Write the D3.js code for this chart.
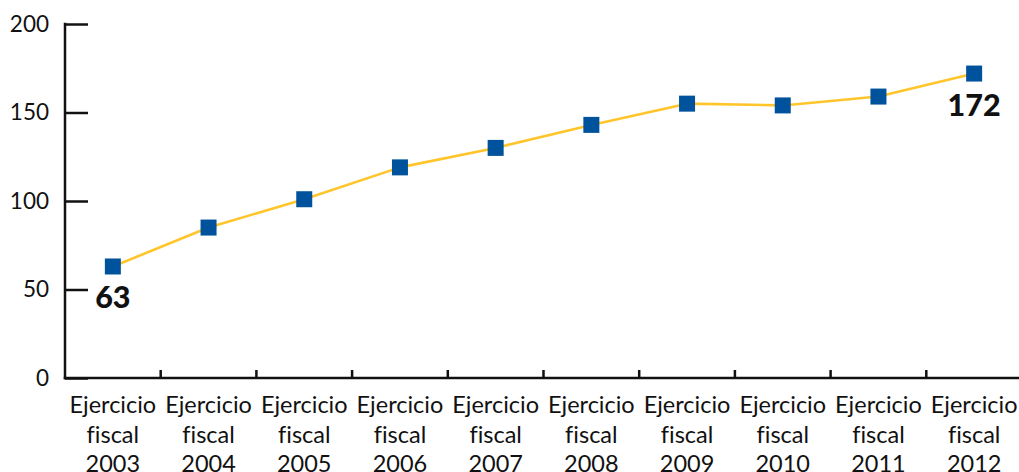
<!DOCTYPE html>
<html>
<head>
<meta charset="utf-8">
<script src="https://cdn.jsdelivr.net/npm/d3@7"></script>
<style>
  html, body { margin: 0; padding: 0; background: #fff; }
  svg { display: block; font-family: Lato, "Open Sans", sans-serif; font-variant-ligatures: none; font-feature-settings: "liga" 0; }
</style>
</head>
<body>
<svg id="chart" width="1019" height="472"></svg>
<script>
// Fiscal years shown along the bottom axis
const years = ["2003", "2004", "2005", "2006", "2007", "2008", "2009", "2010", "2011", "2012"];
const categoryPrefix = ["Ejercicio", "fiscal"];
// Value for each fiscal year
const values = [63, 85, 101, 119, 130, 143, 155, 154, 159, 172];
// Y axis ticks
const yTicks = [0, 50, 100, 150, 200];
// Years whose value is written under the marker
const labelledYears = ["2003", "2012"];

const svg = d3.select("#chart");
const margin = { left: 65, right: -3, top: 24, bottom: 94 };
const width = 1019, height = 472;

const x = d3.scaleBand()
  .domain(years)
  .range([margin.left, width - margin.right])
  .paddingInner(0).paddingOuter(0);

const y = d3.scaleLinear()
  .domain([0, 200])
  .range([height - margin.bottom, margin.top]);

const ink = "#111";

// Y axis: vertical line with inward ticks
const yAxis = svg.append("g")
  .attr("transform", `translate(${margin.left},0)`)
  .call(d3.axisRight(y).tickValues(yTicks).tickSize(23).tickFormat(""));
yAxis.select(".domain").remove();
yAxis.selectAll(".tick line").attr("stroke", ink).attr("stroke-width", 2.5);
svg.append("line")
  .attr("x1", margin.left).attr("x2", margin.left)
  .attr("y1", y(200) - 1.25).attr("y2", y(0) + 1.25)
  .attr("stroke", ink).attr("stroke-width", 2.5);
svg.append("g")
  .selectAll("text")
  .data(yTicks)
  .join("text")
  .attr("x", 49)
  .attr("y", d => y(d))
  .attr("dy", "0.35em")
  .attr("text-anchor", "end")
  .attr("font-size", 22.5)
  .attr("fill", ink)
  .text(d => d);

// X axis: baseline with small upward ticks between categories
const xBase = y(0);
svg.append("line")
  .attr("x1", margin.left - 1.25).attr("x2", width)
  .attr("y1", xBase).attr("y2", xBase)
  .attr("stroke", ink).attr("stroke-width", 2.5);
svg.append("g")
  .selectAll("line")
  .data(years.slice(1))
  .join("line")
  .attr("x1", d => x(d)).attr("x2", d => x(d))
  .attr("y1", xBase).attr("y2", xBase - 8)
  .attr("stroke", ink).attr("stroke-width", 2.5);

const catLabels = svg.append("g")
  .selectAll("text")
  .data(years)
  .join("text")
  .attr("x", d => x(d) + x.bandwidth() / 2)
  .attr("y", 413)
  .attr("text-anchor", "middle")
  .attr("font-size", 23.5)
  .attr("fill", ink);
catLabels.selectAll("tspan")
  .data(d => [...categoryPrefix, d])
  .join("tspan")
  .attr("x", function () { return d3.select(this.parentNode).attr("x"); })
  .attr("dy", (d, i) => i === 0 ? 0 : 29.5)
  .text(d => d);

// Series line
const points = years.map((yr, i) => ({ year: yr, value: values[i] }));
const line = d3.line()
  .x(d => x(d.year) + x.bandwidth() / 2)
  .y(d => y(d.value));
svg.append("path")
  .datum(points)
  .attr("d", line)
  .attr("fill", "none")
  .attr("stroke", "#FFC52B")
  .attr("stroke-width", 2.6)
  .attr("stroke-linejoin", "round");

// Square markers
const size = 16;
svg.append("g")
  .selectAll("rect")
  .data(points)
  .join("rect")
  .attr("x", d => x(d.year) + x.bandwidth() / 2 - size / 2)
  .attr("y", d => y(d.value) - size / 2)
  .attr("width", size)
  .attr("height", size)
  .attr("fill", "#00529C");

// Value labels for the first and last year
svg.append("g")
  .selectAll("text")
  .data(points.filter(d => labelledYears.includes(d.year)))
  .join("text")
  .attr("x", d => x(d.year) + x.bandwidth() / 2)
  .attr("y", d => y(d.value) + 42)
  .attr("text-anchor", "middle")
  .attr("font-size", 30.5)
  .attr("font-weight", 900)
  .attr("fill", ink)
  .text(d => d.value);
</script>
</body>
</html>
